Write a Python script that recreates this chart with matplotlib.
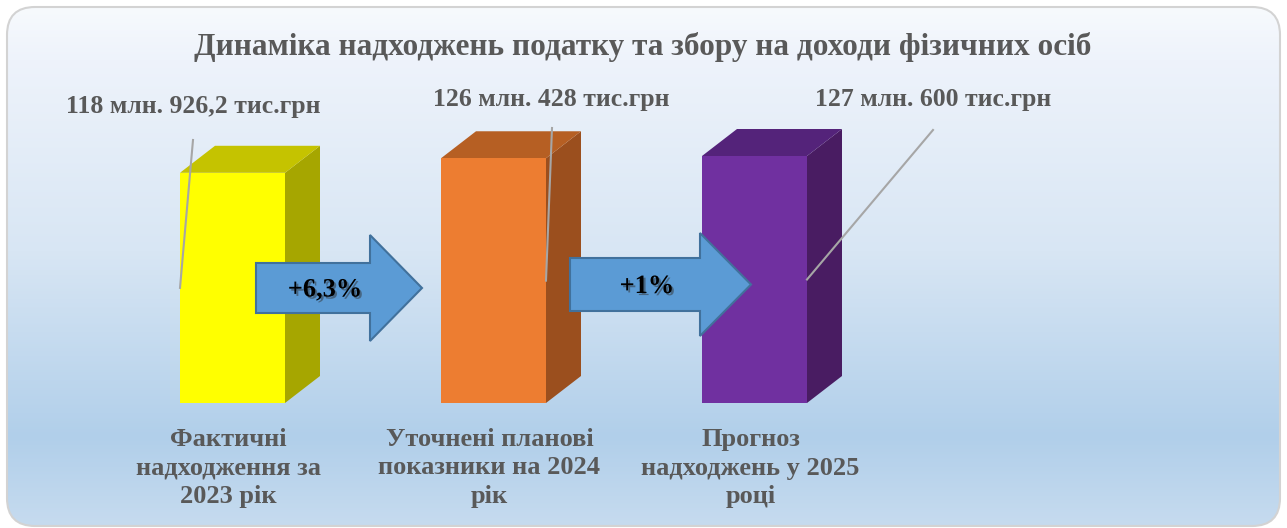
import numpy as np
import matplotlib
matplotlib.use('Agg')
from matplotlib import pyplot as plt
from matplotlib.patches import FancyBboxPatch, Polygon
from matplotlib.colors import LinearSegmentedColormap
import matplotlib.patheffects as pe

# data (thousand UAH)
categories = ['Фактичні\nнадходження за\n2023 рік',
              'Уточнені планові\nпоказники на 2024\nрік',
              'Прогноз\nнадходжень у 2025\nроці']
values = [118926.2, 126428, 127600]
value_labels = ['118 млн. 926,2 тис.грн', '126 млн. 428 тис.грн', '127 млн. 600 тис.грн']
growth_labels = ['+6,3%', '+1%']

front_colors = ['#ffff00', '#ed7d31', '#7030a0']
top_colors = ['#c5c300', '#b65f23', '#54237a']
side_colors = ['#a6a600', '#9b4f1e', '#491c62']

W, H = 1287, 528
plt.rcParams['font.family'] = ['Liberation Serif', 'DejaVu Serif']
fig = plt.figure(figsize=(W / 100, H / 100), dpi=100)

# background card (pixel coordinates)
bg = fig.add_axes([0, 0, 1, 1], zorder=0)
bg.set_xlim(0, W)
bg.set_ylim(H, 0)
bg.axis('off')
card = FancyBboxPatch((7, 7), 1273, 519, boxstyle='round,pad=0,rounding_size=28',
                      facecolor='none', edgecolor='#d3d3d3', lw=1.5, zorder=2)
bg.add_patch(card)
stops = [(0.0, '#f7fafd'), (0.1, '#eef3fb'), (0.47, '#d8e6f4'), (0.83, '#b1cfea'), (1.0, '#c6dbef')]
cmap = LinearSegmentedColormap.from_list('bgrad', stops)
grad = np.linspace(0, 1, 256).reshape(-1, 1)
im = bg.imshow(grad, cmap=cmap, extent=(7, 1280, 526, 7), aspect='auto', zorder=1)
im.set_clip_path(card)

# main axes: category index on x, value on y
ax = fig.add_axes([0, 0, 1, 1], zorder=1)
ax.patch.set_alpha(0)
ax.axis('off')
step = 261.0           # px per category
vpp = values[2] / 247  # value per px
x0 = 232.5             # px of first category
base = 403             # px of value 0
ax.set_xlim(-x0 / step, (W - x0) / step)
ax.set_ylim(-(H - base) * vpp, base * vpp)

def px(xp, yp):
    return (xp - x0) / step, (base - yp) * vpp

bw = 105 / step
dx = 35 / step
dy = 27 * vpp
xs = np.arange(len(values))
ax.bar(xs, values, width=bw, color=front_colors, zorder=3)
for i, v in enumerate(values):
    r = i + bw / 2
    l = i - bw / 2
    ax.add_patch(Polygon([(r, 0), (r + dx, dy), (r + dx, v + dy), (r, v)],
                         closed=True, facecolor=side_colors[i], edgecolor='none', zorder=2))
    ax.add_patch(Polygon([(l, v), (l + dx, v + dy), (r + dx, v + dy), (r, v)],
                         closed=True, facecolor=top_colors[i], edgecolor='none', zorder=2))

# value labels with leader lines
label_pos = [(193, 107), (551, 100), (933, 100)]
line_start = [(193, 140), (552, 128), (933, 130)]
line_end_x = [-bw / 2, 1 + bw / 2, 2 + bw / 2]
for i, v in enumerate(values):
    lx, ly = px(*label_pos[i])
    ax.text(lx, ly, value_labels[i], ha='center', va='center', fontsize=18.5,
            fontweight='bold', color='#595959', zorder=5)
    sx, sy = px(*line_start[i])
    ax.plot([sx, line_end_x[i]], [sy, v / 2], color='#a6a6a6', lw=1.5, zorder=4)

# category labels
for i, c in enumerate(categories):
    cx, cy = px(x0 + step * i - 4, 468)
    ax.text(cx, cy, c, ha='center', va='center', fontsize=19, fontweight='bold',
            color='#595959', linespacing=1.33, zorder=5)

# growth arrows (pixel geometry, drawn above the bars)
arrows = [(256, 370, 422, 263, 313, 235, 341), (570, 700, 751, 258, 311, 233, 336)]
for k, (xl, xh, xt, b1, b2, h1, h2) in enumerate(arrows):
    ym = (h1 + h2) / 2
    pts = [px(xl, b1), px(xh, b1), px(xh, h1), px(xt, ym), px(xh, h2), px(xh, b2), px(xl, b2)]
    ax.add_patch(Polygon(pts, closed=True, facecolor='#5b9bd5', edgecolor='#41719c',
                         lw=1.5, zorder=6))
    tx, ty = px((xl + xh) / 2 + 12, ym + 2)
    ax.text(tx, ty, growth_labels[k], ha='center', va='center', fontsize=19,
            fontweight='bold', color='black', zorder=7,
            path_effects=[pe.withSimplePatchShadow(offset=(1.5, -1.5), shadow_rgbFace='#333333', alpha=0.5)])

# title
bg.text(643, 47, 'Динаміка надходжень податку та збору на доходи фізичних осіб',
        ha='center', va='center', fontsize=22.5, fontweight='bold', color='#595959', zorder=5)

fig.savefig('out.png', dpi=100)
